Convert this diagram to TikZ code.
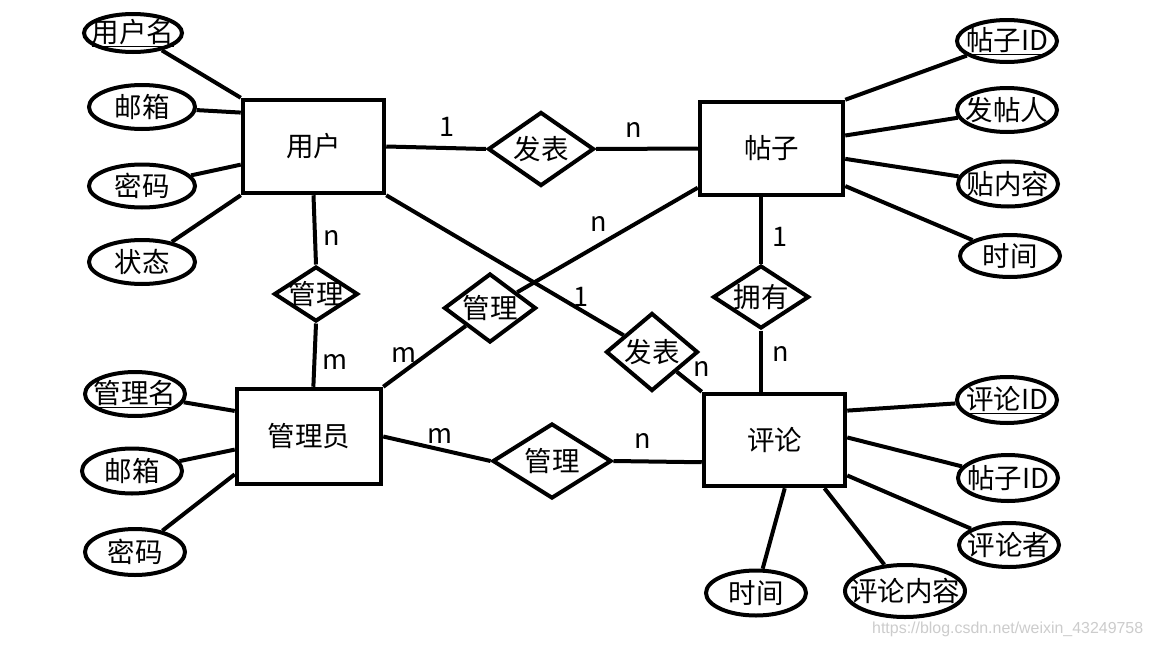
\documentclass[tikz,border=0pt]{standalone}
\usepackage{fontspec}
\usepackage{graphicx}
\setmainfont{Noto Sans CJK SC}
\newfontfamily\wmfont{Liberation Sans}
\usetikzlibrary{shapes.geometric}
\tikzset{
  ent/.style={draw, line width=4.5pt, rectangle, inner sep=0pt},
  rel/.style={draw, line width=4pt, diamond, inner sep=0pt, minimum width=#1},
  attr/.style={draw, line width=4pt, ellipse, inner sep=0pt},
  txt/.style={inner sep=0pt},
  card/.style={inner sep=0pt, font=\fontsize{27}{29}\selectfont},
  conn/.style={line width=4pt},
  wm/.style={inner sep=0pt, text=black!20, font=\wmfont}
}
\begin{document}
\begin{tikzpicture}[x=1pt, y=-1pt, font=\fontsize{27.5}{31}\selectfont]
\useasboundingbox[fill=white] (0,0) rectangle (1152,648);

% entities
\node[ent, minimum width=141pt, minimum height=93pt] (user) at (313.5,146.5) {用户};
\node[ent, minimum width=143pt, minimum height=93pt] (post) at (771.5,148.5) {帖子};
\node[ent, minimum width=144pt, minimum height=95pt] (admin) at (309,436.5) {管理员};
\node[ent, minimum width=141pt, minimum height=92pt] (comment) at (774.5,440) {评论};

% relationships
\node[rel=106pt, minimum height=74pt] (d1) at (541,149) {};
\node[rel=84pt, minimum height=55pt] (d2) at (316,294) {};
\node[rel=92pt, minimum height=69pt] (d3) at (490,308) {};
\node[rel=92pt, minimum height=78pt] (d4) at (652,352) {};
\node[rel=96pt, minimum height=63pt] (d5) at (761,297) {};
\node[rel=119pt, minimum height=75pt] (d6) at (552,461) {};
\node[txt] (d1t) at (d1) {发表};
\node[txt] (d2t) at (d2) {管理};
\node[txt] (d3t) at (d3) {管理};
\node[txt] (d4t) at (d4) {发表};
\node[txt] (d5t) at (d5) {拥有};
\node[txt] (d6t) at (d6) {管理};

% attributes
\node[attr, minimum width=98pt, minimum height=38pt] (eun) at (133,33) {};
\node[attr, minimum width=106pt, minimum height=44pt] (eem1) at (142,107) {};
\node[attr, minimum width=106pt, minimum height=43pt] (epw1) at (142,186) {};
\node[attr, minimum width=106pt, minimum height=44pt] (est) at (142,262) {};
\node[attr, minimum width=100pt, minimum height=42pt] (epid) at (1007,41) {};
\node[attr, minimum width=100pt, minimum height=44pt] (eauth) at (1007,110) {};
\node[attr, minimum width=100pt, minimum height=45pt] (econt) at (1008,184) {};
\node[attr, minimum width=100pt, minimum height=42pt] (etime1) at (1010,256) {};
\node[attr, minimum width=100pt, minimum height=44pt] (eadm) at (135,394) {};
\node[attr, minimum width=100pt, minimum height=45pt] (eem2) at (132,471) {};
\node[attr, minimum width=100pt, minimum height=46pt] (epw2) at (135,552) {};
\node[attr, minimum width=100pt, minimum height=46pt] (ecid) at (1007,400) {};
\node[attr, minimum width=100pt, minimum height=46pt] (epid2) at (1008,478) {};
\node[attr, minimum width=100pt, minimum height=44pt] (ecmt) at (1009,545) {};
\node[attr, minimum width=100pt, minimum height=45pt] (etime2) at (756,593) {};
\node[attr, minimum width=120pt, minimum height=52pt] (ecc) at (905,591) {};

\node[txt] (eunt) at (eun) {\underline{用户名}};
\node[txt] (eem1t) at (eem1) {邮箱};
\node[txt] (epw1t) at (epw1) {密码};
\node[txt] (estt) at (est) {状态};
\node[txt] (epidt) at (epid) {\underline{帖子ID}};
\node[txt] (eautht) at (eauth) {发帖人};
\node[txt] (econtt) at (econt) {贴内容};
\node[txt] (etime1t) at (etime1) {时间};
\node[txt] (eadmt) at (eadm) {\underline{管理名}};
\node[txt] (eem2t) at (eem2) {邮箱};
\node[txt] (epw2t) at (epw2) {密码};
\node[txt] (ecidt) at (ecid) {\underline{评论ID}};
\node[txt] (epid2t) at (epid2) {帖子ID};
\node[txt] (ecmtt) at (ecmt) {评论者};
\node[txt] (etime2t) at (etime2) {时间};
\node[txt] (ecct) at (ecc) {评论内容};

% connectors: user
\draw[conn] (eun) -- (user.north west);
\draw[conn] (eem1) -- (user.155);
\draw[conn] (epw1) -- (user.194);
\draw[conn] (est) -- (user.south west);
\draw[conn] (user.east) -- (d1.west);
\draw[conn] (user.south) -- (d2.north);
\draw[conn] (user.south east) -- (d4);
% post
\draw[conn] (d1.east) -- (post.west);
\draw[conn] (post.208) -- (d3);
\draw[conn] (post.south -| d5.north) -- (d5.north);
\draw[conn] (post.north east) -- (epid);
\draw[conn] (post.10) -- (eauth);
\draw[conn] (post.-8) -- (econt);
\draw[conn] (post.-27) -- (etime1);
% admin
\draw[conn] (d2.south) -- (admin.85);
\draw[conn] (admin.north east) -- (d3);
\draw[conn] (admin.east) -- (d6.west);
\draw[conn] (eadm) -- (admin.161);
\draw[conn] (eem2) -- (admin.190);
\draw[conn] (epw2) -- (admin.207);
% comment
\draw[conn] (d4) -- (comment.north west);
\draw[conn] (d5.south) -- (comment.north -| d5.south);
\draw[conn] (d6.east) -- (comment.197);
\draw[conn] (comment.22) -- (ecid);
\draw[conn] (comment.2) -- (epid2);
\draw[conn] (comment.-26) -- (ecmt);
\draw[conn] (comment.-78) -- (etime2);
\draw[conn] (comment.-44) -- (ecc);

% cardinalities
\node[card] (c1) at (447,127) {1};
\node[card] (c2) at (634,130) {n};
\node[card] (c3) at (332,238) {n};
\node[card] (c4) at (335,362) {m};
\node[card] (c5) at (404,355) {m};
\node[card] (c6) at (599,224) {n};
\node[card] (c7) at (581,297) {1};
\node[card] (c8) at (702,369) {n};
\node[card] (c9) at (780,237) {1};
\node[card] (c10) at (781,354) {n};
\node[card] (c11) at (440,436) {m};
\node[card] (c12) at (643,441) {n};

% watermark
\node[wm, anchor=west] (wmk) at (872,629) {\resizebox{271pt}{!}{https://blog.csdn.net/weixin\_43249758}};
\end{tikzpicture}
\end{document}
